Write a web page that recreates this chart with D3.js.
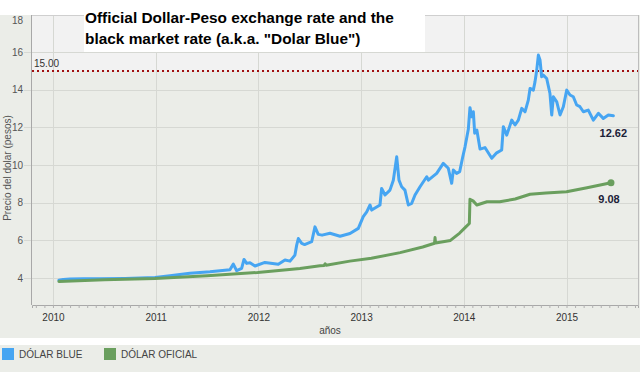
<!DOCTYPE html>
<html><head><meta charset="utf-8">
<script src="https://cdn.jsdelivr.net/npm/d3@7"></script>
<style>
html,body{margin:0;padding:0;background:#fff;}
svg{display:block;font-family:Arial,"Liberation Sans",sans-serif;}
</style></head>
<body>
<svg id="chart" width="640" height="372"></svg>
<script>
// ---- data (decimal years, pesos per dollar) ----
const blueYears = [2010.058,2010.10,2010.166,2010.30,2010.458,2010.70,2010.85,2010.993,2011.139,2011.334,2011.529,2011.723,2011.756,2011.789,2011.837,2011.86,2011.886,2011.918,2011.967,2012.064,2012.194,2012.259,2012.308,2012.356,2012.373,2012.389,2012.422,2012.45,2012.519,2012.551,2012.583,2012.62,2012.697,2012.795,2012.892,2012.973,2013.021,2013.055,2013.087,2013.103,2013.184,2013.2,2013.233,2013.281,2013.314,2013.347,2013.369,2013.395,2013.427,2013.46,2013.493,2013.525,2013.574,2013.639,2013.655,2013.736,2013.80,2013.849,2013.882,2013.898,2013.93,2013.96,2013.99,2014.012,2014.044,2014.06,2014.077,2014.093,2014.106,2014.127,2014.158,2014.206,2014.272,2014.32,2014.369,2014.385,2014.418,2014.467,2014.499,2014.531,2014.564,2014.596,2014.628,2014.645,2014.677,2014.693,2014.71,2014.726,2014.742,2014.758,2014.774,2014.807,2014.839,2014.856,2014.872,2014.905,2014.937,2014.969,2015.002,2015.034,2015.066,2015.099,2015.131,2015.164,2015.212,2015.261,2015.31,2015.358,2015.407,2015.456];
const blueValues = [3.89,3.93,3.95,3.96,3.96,3.98,4.00,4.03,4.12,4.26,4.33,4.44,4.74,4.39,4.51,4.99,4.78,4.81,4.64,4.83,4.73,4.96,4.90,5.22,5.75,6.10,5.84,5.78,5.93,6.72,6.32,6.28,6.38,6.22,6.37,6.64,7.26,7.52,7.88,7.61,7.88,8.76,8.41,8.67,9.20,10.44,9.20,8.85,8.67,7.88,7.97,8.41,8.85,9.38,9.20,9.56,10.09,9.83,9.03,9.74,9.56,9.65,10.44,10.97,11.90,13.05,12.57,12.83,11.69,11.86,10.85,10.93,10.36,10.65,10.80,12.04,11.59,12.39,12.13,12.39,13.01,12.83,13.45,14.07,13.98,14.42,15.04,15.84,15.58,14.69,14.78,14.60,13.80,12.66,13.63,13.36,12.66,13.10,13.98,13.72,13.63,13.19,13.10,12.83,12.92,12.39,12.75,12.48,12.66,12.62];
const officialYears = [2010.058,2010.5,2010.993,2011.5,2011.993,2012.405,2012.6,2012.64,2012.65,2012.66,2012.89,2013.1,2013.38,2013.6,2013.70,2013.715,2013.72,2013.725,2013.87,2013.96,2014.02,2014.054,2014.06,2014.09,2014.127,2014.226,2014.35,2014.5,2014.645,2014.8,2015.0,2015.2,2015.433];
const officialValues = [3.82,3.91,3.98,4.12,4.30,4.51,4.65,4.67,4.76,4.68,4.90,5.05,5.35,5.65,5.82,5.85,6.15,5.86,6.00,6.39,6.72,6.90,8.18,8.10,7.88,8.05,8.05,8.20,8.45,8.52,8.58,8.80,9.06];
const seriesNames = ["DÓLAR BLUE","DÓLAR OFICIAL"];
const seriesColors = ["#46a5f2","#6a9f5e"];
const yTicks = [4,6,8,10,12,14,16,18];
const xTicks = [2010,2011,2012,2013,2014,2015];
const refValue = 15;
const lastBlueLabel = "12.62";
const lastOfficialLabel = "9.08";
const titleLines = ["Official Dollar-Peso exchange rate and the","black market rate (a.k.a. \"Dolar Blue\")"];

const svg = d3.select("#chart");
const W = 640, H = 372;
const L = 32, R = 638, T = 15, B = 305;

const x = d3.scaleLinear().domain([2009.796, 2015.696]).range([L, R]);
const y = d3.scaleLinear().domain([2.57, 17.97]).range([B, T]);

// backgrounds
svg.append("rect").attr("x",0).attr("y",0).attr("width",W).attr("height",H).attr("fill","#ebede8");
svg.append("rect").attr("x",0).attr("y",0).attr("width",W).attr("height",T).attr("fill","#ffffff");
svg.append("rect").attr("x",0).attr("y",338).attr("width",W).attr("height",7).attr("fill","#ffffff");
svg.append("rect").attr("x",L).attr("y",T).attr("width",R-L).attr("height",y(refValue)-T).attr("fill","#f2f2f2");

// gridlines
const g = svg.append("g");
g.selectAll("line.hg").data(yTicks.filter(d=>d<18)).join("line")
  .attr("x1",L-8).attr("x2",R).attr("y1",d=>Math.round(y(d))+0.5).attr("y2",d=>Math.round(y(d))+0.5)
  .attr("stroke","#d6d8d3");
g.selectAll("line.vg").data(xTicks).join("line")
  .attr("x1",d=>Math.round(x(d))+0.5).attr("x2",d=>Math.round(x(d))+0.5).attr("y1",T).attr("y2",B)
  .attr("stroke","#d6d8d3");

// frame
svg.append("line").attr("x1",L).attr("x2",R).attr("y1",T+0.5).attr("y2",T+0.5).attr("stroke","#cfcfcf");
svg.append("line").attr("x1",R+0.5).attr("x2",R+0.5).attr("y1",T).attr("y2",B).attr("stroke","#bdbdbd");
svg.append("line").attr("x1",L-0.5).attr("x2",L-0.5).attr("y1",T).attr("y2",B).attr("stroke","#a8a8a8");

// x axis with monthly minor ticks
const monthTicks = d3.range(0, Math.round((2015.696-2009.796)*12)+1).map(i=>2009.75 + i/12).filter(v=>v>=2009.796 && v<=2015.696);
const xAxisMinor = d3.axisBottom(x).tickValues(monthTicks).tickSize(3).tickFormat("");
const gxm = svg.append("g").attr("transform",`translate(0,${B})`).call(xAxisMinor);
gxm.select(".domain").attr("stroke","#a8a8a8");
gxm.selectAll(".tick line").attr("stroke","#b0b0b0");
const xAxis = d3.axisBottom(x).tickValues(xTicks).tickSize(0).tickPadding(9).tickFormat(d3.format("d"));
const gx = svg.append("g").attr("transform",`translate(0,${B})`).call(xAxis);
gx.select(".domain").remove();
gx.selectAll("text").attr("font-size",10).attr("fill","#333").attr("font-family","Arial, 'Liberation Sans', sans-serif");

// y axis labels
const yAxis = d3.axisLeft(y).tickValues(yTicks).tickSize(0).tickPadding(9).tickFormat(d3.format("d"));
const gy = svg.append("g").attr("transform",`translate(${L},0)`).call(yAxis);
gy.select(".domain").remove();
gy.selectAll("text").attr("font-size",10).attr("fill","#555").attr("font-family","Arial, 'Liberation Sans', sans-serif");
gy.selectAll(".tick").filter(d=>d===18).select("text").attr("dy","0.9em");

// axis titles
svg.append("text").attr("transform",`translate(11,${(T+B)/2+8}) rotate(-90)`).attr("text-anchor","middle")
  .attr("font-size",10).attr("fill","#555").text("Precio del dolar (pesos)");
svg.append("text").attr("x",330).attr("y",334).attr("text-anchor","middle")
  .attr("font-size",10).attr("fill","#444").text("años");

// reference line
svg.append("line").attr("x1",L).attr("x2",R).attr("y1",y(refValue)).attr("y2",y(refValue))
  .attr("stroke","#a01010").attr("stroke-width",2).attr("stroke-dasharray","2,3");
svg.append("text").attr("x",L+2).attr("y",y(refValue)-4).attr("font-size",10).attr("fill","#333")
  .text(d3.format(".2f")(refValue));

// lines
const line = d3.line().x(d=>x(d[0])).y(d=>y(d[1]));
const blueData = d3.zip(blueYears, blueValues);
const offData = d3.zip(officialYears, officialValues);
svg.append("path").datum(blueData).attr("d",line).attr("fill","none")
  .attr("stroke",seriesColors[0]).attr("stroke-width",3).attr("stroke-linejoin","round").attr("stroke-linecap","round");
svg.append("path").datum(offData).attr("d",line).attr("fill","none")
  .attr("stroke",seriesColors[1]).attr("stroke-width",3).attr("stroke-linejoin","round").attr("stroke-linecap","round");
const lastOff = offData[offData.length-1];
svg.append("circle").attr("cx",x(lastOff[0])).attr("cy",y(lastOff[1])).attr("r",3.5).attr("fill",seriesColors[1]);

// end labels
const lastBlue = blueData[blueData.length-1];
svg.append("text").attr("x",x(lastBlue[0])).attr("y",y(lastBlue[1])+21).attr("text-anchor","middle")
  .attr("font-size",11).attr("font-weight","bold").attr("fill","#1c2238").text(lastBlueLabel);
svg.append("text").attr("x",x(lastOff[0])-2).attr("y",y(lastOff[1])+20).attr("text-anchor","middle")
  .attr("font-size",11).attr("font-weight","bold").attr("fill","#1c2238").text(lastOfficialLabel);

// title box
svg.append("rect").attr("x",84).attr("y",0).attr("width",341).attr("height",52).attr("fill","#fff");
svg.append("text").attr("x",85).attr("y",23).attr("font-size",15.4).attr("font-weight","bold").attr("fill","#000").text(titleLines[0]);
svg.append("text").attr("x",85).attr("y",44).attr("font-size",15.4).attr("font-weight","bold").attr("fill","#000").text(titleLines[1]);

// legend
const leg = svg.append("g");
const legX = [2,104];
seriesNames.forEach((n,i)=>{
  leg.append("rect").attr("x",legX[i]).attr("y",348).attr("width",12).attr("height",12).attr("fill",seriesColors[i]);
  leg.append("text").attr("x",legX[i]+17).attr("y",358).attr("font-size",10).attr("fill","#444").text(n);
});
</script>
</body></html>
